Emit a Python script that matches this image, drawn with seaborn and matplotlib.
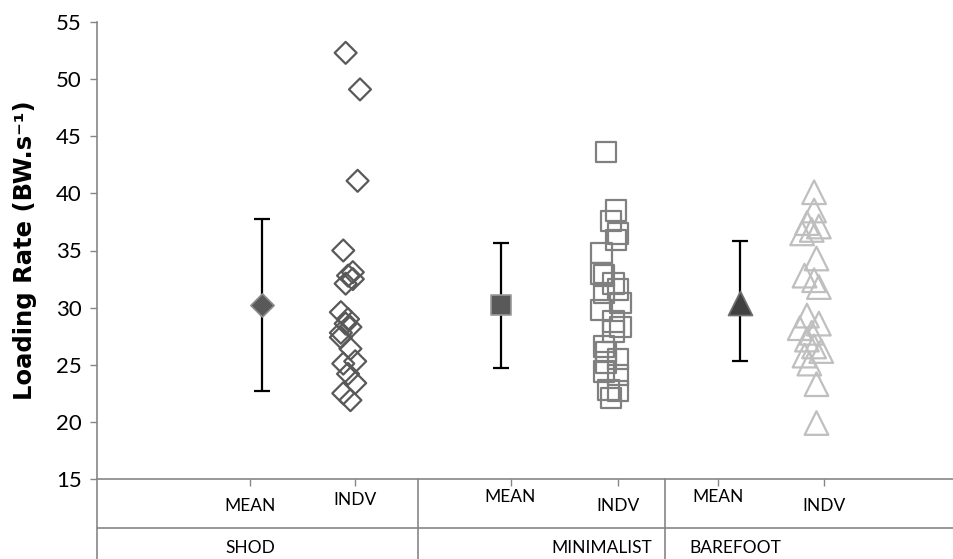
import matplotlib
matplotlib.use("Agg")
import matplotlib.pyplot as plt
import matplotlib.transforms as mtransforms
import seaborn as sns
import pandas as pd

# ---------------- data ----------------
groups = ["SHOD", "MINIMALIST", "BAREFOOT"]
sub_labels = ["MEAN", "INDV"]
y_label = "Loading Rate (BW.s\u207b\u00b9)"

mean_values = [30.2, 30.2, 30.4]
sd_upper = [37.8, 35.7, 35.8]
sd_lower = [22.7, 24.7, 25.3]

shod_indv = [52.3, 49.1, 41.1, 35.0, 33.1, 32.8, 32.5, 32.1, 29.6, 29.0, 28.6,
             28.3, 27.8, 27.4, 26.4, 25.3, 25.1, 24.2, 23.4, 22.5, 21.9]
shod_xoff = [0.35, 0.41, 0.40, 0.34, 0.38, 0.36, 0.38, 0.35, 0.33, 0.36, 0.35,
             0.37, 0.33, 0.33, 0.37, 0.39, 0.34, 0.36, 0.39, 0.34, 0.37]

minimalist_indv = [43.6, 38.5, 37.6, 36.5, 35.9, 34.8, 33.0, 32.8, 32.1, 31.6,
                   31.3, 30.4, 29.8, 28.8, 28.3, 27.9, 26.6, 26.1, 25.5, 25.2,
                   24.4, 24.1, 22.8, 22.7, 22.1]
minimalist_xoff = [0.44, 0.48, 0.46, 0.49, 0.48, 0.42, 0.42, 0.43, 0.47, 0.49,
                   0.43, 0.50, 0.42, 0.47, 0.50, 0.47, 0.43, 0.44, 0.49, 0.44,
                   0.43, 0.49, 0.45, 0.49, 0.46]

barefoot_indv = [40.1, 38.5, 37.4, 37.1, 36.8, 36.5, 34.3, 32.8, 32.4, 31.8,
                 29.3, 28.6, 28.2, 27.8, 27.2, 26.6, 26.2, 25.8, 25.1, 23.3, 19.9]
barefoot_xoff = [0.31, 0.31, 0.28, 0.33, 0.30, 0.26, 0.32, 0.27, 0.31, 0.33,
                 0.28, 0.33, 0.25, 0.30, 0.28, 0.31, 0.34, 0.27, 0.29, 0.32, 0.32]

# label positions (data x) for the two-level category table
sub_label_x = [-0.05, 0.39, 1.04, 1.49, 1.91, 2.35]
sub_label_y = [-0.058, -0.046, -0.040, -0.058, -0.040, -0.058]
group_label_x = [-0.05, 1.42, 1.98]
divider_x = [0.653, 1.686]

# ---------------- styling ----------------
sns.set_theme(style="white")
plt.rcParams["font.family"] = ["Lato", "DejaVu Sans"]

fig = plt.figure(figsize=(9.54, 5.59), dpi=100)
ax = fig.add_axes([97 / 954, 80 / 559, (954 - 97) / 954, (479 - 22) / 559])

axis_gray = "#868686"

# individual points
df_indv = pd.DataFrame({
    "x": [o for o in shod_xoff]
         + [1 + o for o in minimalist_xoff]
         + [2 + o for o in barefoot_xoff],
    "y": shod_indv + minimalist_indv + barefoot_indv,
    "group": ["SHOD"] * len(shod_indv) + ["MINIMALIST"] * len(minimalist_indv)
             + ["BAREFOOT"] * len(barefoot_indv),
})

styles = {
    "SHOD": dict(marker="D", s=125, edgecolor="#595959"),
    "MINIMALIST": dict(marker="s", s=215, edgecolor="#808080"),
    "BAREFOOT": dict(marker="^", s=290, edgecolor="#bfbfbf"),
}
for g in groups:
    sub = df_indv[df_indv["group"] == g]
    st = styles[g]
    sns.scatterplot(data=sub, x="x", y="y", marker=st["marker"], s=st["s"],
                    facecolor="none", edgecolor=st["edgecolor"], linewidth=1.6,
                    ax=ax, legend=False, zorder=3)

# means with error bars
mean_x = [0, 1, 2]
yerr = [[m - lo for m, lo in zip(mean_values, sd_lower)],
        [hi - m for m, hi in zip(mean_values, sd_upper)]]
ax.errorbar(mean_x, mean_values, yerr=yerr, fmt="none", ecolor="black",
            elinewidth=1.6, capsize=6, capthick=1.6, zorder=2)

df_mean = pd.DataFrame({"x": mean_x, "y": mean_values, "group": groups})
mean_styles = {
    "SHOD": dict(marker="D", s=140, fc="#595959", ec="#8c8c8c"),
    "MINIMALIST": dict(marker="s", s=225, fc="#595959", ec="#9a9a9a"),
    "BAREFOOT": dict(marker="^", s=300, fc="#404040", ec="#707070"),
}
for g in groups:
    sub = df_mean[df_mean["group"] == g]
    st = mean_styles[g]
    sns.scatterplot(data=sub, x="x", y="y", marker=st["marker"], s=st["s"],
                    color=st["fc"], edgecolor=st["ec"], linewidth=1.2,
                    ax=ax, legend=False, zorder=4)

# axes
ax.set_ylim(15, 55)
ax.set_yticks(range(15, 56, 5))
ax.set_xlim((97 - 262) / 239, (954 - 262) / 239)
ax.set_xticks(sub_label_x)
ax.set_xticklabels([])
ax.set_xlabel("")
ax.set_ylabel(y_label, fontsize=17.5, fontweight="bold", labelpad=14,
              color="black", family=["DejaVu Sans"])
ax.tick_params(axis="y", which="both", left=True, length=5, width=1,
               color=axis_gray, labelsize=16, pad=6, labelcolor="black")
ax.tick_params(axis="x", which="both", bottom=True, length=5, width=1,
               color=axis_gray, direction="out")
for side in ["top", "right"]:
    ax.spines[side].set_visible(False)
for side in ["left", "bottom"]:
    ax.spines[side].set_color(axis_gray)
    ax.spines[side].set_linewidth(1.2)

# category table below the axis
trans = mtransforms.blended_transform_factory(ax.transData, ax.transAxes)
row_y = (479 - 528) / 457
bot_y = (479 - 560) / 457
ax.plot([ax.get_xlim()[0], ax.get_xlim()[1]], [row_y, row_y], transform=trans,
        color=axis_gray, lw=1.2, clip_on=False)
ax.plot([ax.get_xlim()[0], ax.get_xlim()[0]], [0, bot_y], transform=trans,
        color=axis_gray, lw=1.2, clip_on=False)
for dx in divider_x:
    ax.plot([dx, dx], [0, bot_y], transform=trans, color=axis_gray, lw=1.2,
            clip_on=False)

for i, (lx, ly) in enumerate(zip(sub_label_x, sub_label_y)):
    ax.text(lx, ly, sub_labels[i % 2], transform=trans, ha="center",
            va="center", fontsize=12.5, color="black")
for g, gx in zip(groups, group_label_x):
    ax.text(gx, (479 - 548) / 457, g, transform=trans, ha="center",
            va="center", fontsize=12.5, color="black")

fig.savefig("out.png", dpi=100)
